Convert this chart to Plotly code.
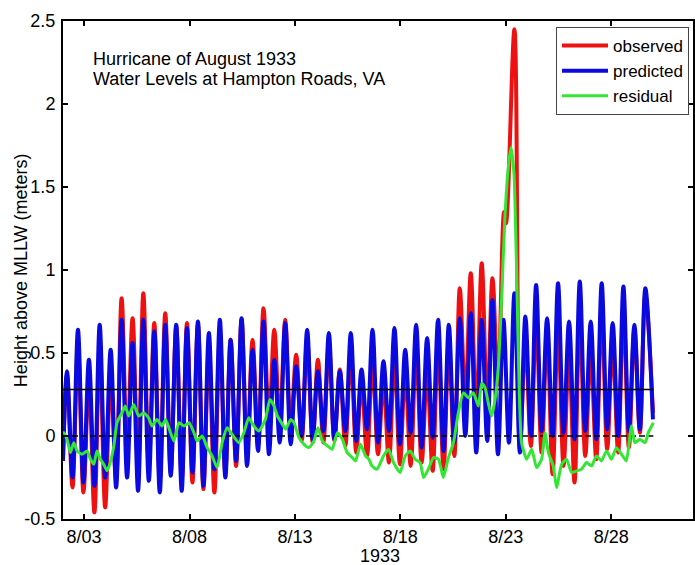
import plotly.graph_objects as go
import pandas as pd

# ---------------- data ----------------
# time axis: day of August 1933 (decimal days)
series_start_day = 2.00
series_end_day = 29.98

# high-water times and low-water times (decimal day of August)
hw_day = [2.19, 2.71, 3.23, 3.74, 4.26, 4.78, 5.30, 5.81, 6.33, 6.85,
          7.37, 7.88, 8.40, 8.92, 9.44, 9.95, 10.47, 10.99, 11.51, 12.02,
          12.54, 13.06, 13.58, 14.09, 14.61, 15.13, 15.65, 16.16, 16.68, 17.20,
          17.72, 18.23, 18.75, 19.27, 19.79, 20.30, 20.82, 21.34, 21.86, 22.37,
          22.89, 23.41, 23.93, 24.44, 24.96, 25.48, 26.00, 26.51, 27.03, 27.55,
          28.07, 28.58, 29.10, 29.62]
lw_day = [2.45, 2.97, 3.49, 4.00, 4.52, 5.04, 5.56, 6.07, 6.59, 7.11,
          7.63, 8.14, 8.66, 9.18, 9.70, 10.21, 10.73, 11.25, 11.77, 12.28,
          12.80, 13.32, 13.84, 14.35, 14.87, 15.39, 15.91, 16.42, 16.94, 17.46,
          17.98, 18.49, 19.01, 19.53, 20.05, 20.56, 21.08, 21.60, 22.12, 22.63,
          23.15, 23.67, 24.19, 24.70, 25.22, 25.74, 26.26, 26.77, 27.29, 27.81,
          28.33, 28.84, 29.36]

# predicted tide (m above MLLW)
pred_start, pred_end = -0.15, 0.10
pred_hw = [0.39, 0.64, 0.46, 0.67, 0.52, 0.70, 0.56, 0.70, 0.63, 0.67,
           0.67, 0.65, 0.69, 0.62, 0.70, 0.58, 0.71, 0.52, 0.69, 0.46,
           0.68, 0.42, 0.64, 0.39, 0.62, 0.39, 0.62, 0.40, 0.64, 0.45,
           0.65, 0.52, 0.67, 0.59, 0.70, 0.67, 0.71, 0.74, 0.70, 0.82,
           0.70, 0.86, 0.72, 0.91, 0.71, 0.92, 0.69, 0.93, 0.69, 0.92,
           0.68, 0.90, 0.67, 0.89]
pred_lw = [-0.25, -0.28, -0.30, -0.25, -0.31, -0.25, -0.33, -0.27, -0.34, -0.24,
           -0.33, -0.22, -0.30, -0.20, -0.25, -0.15, -0.18, -0.09, -0.11, -0.04,
           -0.05, 0.00, -0.02, 0.03, -0.02, 0.03, -0.03, 0.04, -0.04, 0.03,
           -0.05, 0.02, -0.07, -0.01, -0.09, -0.04, 0.00, -0.10, -0.03, -0.11,
           -0.04, -0.10, 0.00, 0.03, 0.00, 0.02, -0.02, 0.03, -0.02, 0.04,
           0.00, 0.03, 0.04]

# observed water level (m above MLLW); None where the surge replaces the tide
obs_start, obs_end = -0.13, 0.14
obs_hw = [0.37, 0.55, 0.34, 0.54, 0.37, 0.83, 0.71, 0.86, 0.68, 0.74,
          0.66, 0.68, 0.67, 0.53, 0.60, 0.58, 0.70, 0.58, 0.77, 0.64,
          0.70, 0.49, 0.58, 0.46, 0.55, 0.40, 0.50, 0.33, 0.46, 0.33,
          0.48, 0.40, 0.53, 0.38, 0.56, 0.55, 0.89, 0.98, 1.04, 0.95,
          None, 2.45, 0.58, 0.72, 0.63, 0.67, 0.51, 0.73, 0.51, 0.77,
          0.56, 0.78, 0.64, 0.85]
obs_lw = [-0.31, -0.34, -0.46, -0.43, -0.27, -0.10, -0.21, -0.17, -0.27, -0.22,
          -0.26, -0.28, -0.32, -0.34, -0.22, -0.18, -0.10, -0.05, 0.08, 0.06,
          0.05, -0.03, -0.04, -0.04, -0.03, -0.06, -0.10, -0.12, -0.11, -0.16,
          -0.17, -0.18, -0.16, -0.21, -0.20, -0.12, 0.20, 0.10, 0.17, 0.31,
          None, -0.08, -0.06, -0.10, -0.23, -0.18, -0.28, -0.12, -0.14, -0.08,
          -0.10, -0.07, 0.02]
obs_surge_day = [22.92, 23.01]
obs_surge = [1.35, 1.28]

# residual (observed - predicted)
resid_day = [2.00, 2.04, 2.19, 2.35, 2.51, 2.67, 2.90, 3.14, 3.30, 3.46,
             3.61, 3.77, 3.93, 4.09, 4.24, 4.41, 4.56, 4.80, 4.95, 5.12,
             5.35, 5.59, 5.83, 6.06, 6.22, 6.46, 6.69, 6.87, 7.10, 7.26,
             7.50, 7.74, 7.98, 8.21, 8.36, 8.60, 8.84, 9.07, 9.31, 9.55,
             9.78, 10.02, 10.34, 10.58, 10.81, 11.05, 11.29, 11.60, 11.81, 12.01,
             12.17, 12.41, 12.56, 12.80, 12.96, 13.19, 13.43, 13.67, 13.90, 14.09,
             14.30, 14.54, 14.77, 15.01, 15.25, 15.48, 15.72, 15.88, 16.11, 16.35,
             16.51, 16.65, 16.89, 17.20, 17.44, 17.68, 17.99, 18.23, 18.47, 18.70,
             18.94, 19.10, 19.33, 19.57, 19.81, 20.04, 20.28, 20.52, 20.75, 20.99,
             21.23, 21.46, 21.70, 21.86, 22.02, 22.17, 22.33, 22.49, 22.65, 22.80,
             22.96, 23.12, 23.25, 23.39, 23.51, 23.63, 23.75, 23.99, 24.23, 24.46,
             24.70, 24.86, 25.02, 25.25, 25.41, 25.65, 25.88, 26.12, 26.36, 26.59,
             26.83, 27.07, 27.30, 27.54, 27.78, 28.01, 28.25, 28.49, 28.72, 28.96,
             29.12, 29.36, 29.61, 29.76, 30.00]
resid = [0.02, 0.02, -0.02, -0.10, -0.04, -0.09, -0.11, -0.09, -0.14, -0.17,
         -0.09, -0.14, -0.17, -0.21, -0.16, -0.06, 0.08, 0.14, 0.18, 0.12,
         0.19, 0.12, 0.14, 0.11, 0.06, 0.10, 0.06, 0.10, 0.02, -0.03,
         0.08, 0.06, 0.08, 0.02, -0.03, 0.00, -0.07, -0.12, -0.19, -0.04,
         0.05, 0.01, -0.04, 0.02, 0.11, 0.06, 0.03, 0.10, 0.22, 0.18,
         0.12, 0.07, 0.04, 0.10, 0.08, -0.01, -0.05, -0.07, -0.03, 0.05,
         -0.03, -0.06, -0.08, 0.02, -0.02, -0.10, -0.13, -0.15, -0.05, -0.12,
         -0.14, -0.18, -0.20, -0.12, -0.08, -0.16, -0.22, -0.12, -0.09, -0.14,
         -0.16, -0.25, -0.20, -0.13, -0.14, -0.25, -0.13, -0.04, 0.14, 0.26,
         0.23, 0.26, 0.18, 0.32, 0.29, 0.20, 0.12, 0.22, 0.42, 0.82,
         1.32, 1.62, 1.74, 1.58, 1.02, 0.32, -0.04, -0.14, -0.08, -0.19,
         -0.14, 0.02, -0.10, -0.18, -0.31, -0.17, -0.14, -0.22, -0.21, -0.20,
         -0.16, -0.18, -0.12, -0.15, -0.09, -0.14, -0.07, -0.11, -0.15, 0.06,
         -0.04, -0.02, -0.04, 0.02, 0.08]

# reference levels
msl_level = 0.28
mllw_level = 0.0

# axes
x_range_days = [2.0, 31.88]
x_tick_days = [3, 8, 13, 18, 23, 28]
x_tick_labels = ["8/03", "8/08", "8/13", "8/18", "8/23", "8/28"]
y_tick_vals = [-0.5, 0, 0.5, 1, 1.5, 2, 2.5]
y_tick_labels = ["-0.5", "0", "0.5", "1", "1.5", "2", "2.5"]

# ---------------- build ----------------
BASE = pd.Timestamp("1933-08-01")


def to_date(d):
    return BASE + pd.to_timedelta(d - 1, unit="D")


def build(start, hw, lw, end, extra_day=(), extra=()):
    pts = [(series_start_day, start)]
    pts += [(d, v) for d, v in zip(hw_day, hw) if v is not None]
    pts += [(d, v) for d, v in zip(lw_day, lw) if v is not None]
    pts += list(zip(extra_day, extra))
    pts.append((series_end_day, end))
    pts.sort()
    return [to_date(d) for d, _ in pts], [v for _, v in pts]


FONT = "Liberation Sans, Arial, Helvetica, sans-serif"
FS = 18
RED, BLUE, GREEN = "#ee1111", "#0a0ae0", "#33e633"

fig = go.Figure()

ox, oy = build(obs_start, obs_hw, obs_lw, obs_end, obs_surge_day, obs_surge)
px_, py_ = build(pred_start, pred_hw, pred_lw, pred_end)

fig.add_trace(go.Scatter(x=ox, y=oy, mode="lines", name="observed",
                         line=dict(color=RED, width=4, shape="spline", smoothing=1.0),
                         legendrank=1))
fig.add_trace(go.Scatter(x=px_, y=py_, mode="lines", name="predicted",
                         line=dict(color=BLUE, width=4, shape="spline", smoothing=1.0),
                         legendrank=2))

line_x = [to_date(series_start_day), to_date(resid_day[-1])]
fig.add_trace(go.Scatter(x=line_x, y=[msl_level, msl_level], mode="lines",
                         line=dict(color="black", width=1.5), showlegend=False,
                         hoverinfo="skip"))
fig.add_trace(go.Scatter(x=line_x, y=[mllw_level, mllw_level], mode="lines",
                         line=dict(color="black", width=1.5, dash="6px,3px"),
                         showlegend=False, hoverinfo="skip"))

fig.add_trace(go.Scatter(x=[to_date(d) for d in resid_day], y=resid, mode="lines",
                         name="residual",
                         line=dict(color=GREEN, width=3, shape="spline", smoothing=0.5),
                         legendrank=3))

axis_common = dict(showline=True, linecolor="black", linewidth=2, mirror="ticks",
                   ticks="inside", ticklen=5, tickwidth=1.5, tickcolor="black",
                   showgrid=False, zeroline=False,
                   tickfont=dict(family=FONT, size=FS, color="black"))

fig.update_xaxes(type="date",
                 range=[to_date(x_range_days[0]), to_date(x_range_days[1])],
                 tickmode="array",
                 tickvals=[to_date(d) for d in x_tick_days],
                 ticktext=x_tick_labels,
                 ticklabelstandoff=0,
                 **axis_common)
fig.update_yaxes(range=[-0.5, 2.5], tickmode="array",
                 tickvals=y_tick_vals, ticktext=y_tick_labels,
                 ticklabelstandoff=2,
                 **axis_common)

W, H = 695, 565
L, R, T, B = 63, 0, 21, 46
pw, ph = W - L - R, H - T - B


def pxx(x):
    return (x - L) / pw


def pxy(y):
    return (H - B - y) / ph


fig.update_layout(
    width=W, height=H,
    margin=dict(l=L, r=R, t=T, b=B, pad=0),
    paper_bgcolor="white", plot_bgcolor="white",
    font=dict(family=FONT, size=FS, color="black"),
    showlegend=True,
    legend=dict(x=pxx(691), xanchor="right", y=pxy(27), yanchor="top",
                bgcolor="white", bordercolor="#444444", borderwidth=1,
                font=dict(family=FONT, size=17, color="black"),
                itemwidth=46, tracegroupgap=0),
    annotations=[
        dict(text="Hurricane of August 1933", xref="paper", yref="paper",
             x=pxx(91), y=pxy(59), xanchor="left", yanchor="middle",
             showarrow=False, font=dict(family=FONT, size=FS, color="black")),
        dict(text="Water Levels at Hampton Roads, VA", xref="paper", yref="paper",
             x=pxx(91), y=pxy(79), xanchor="left", yanchor="middle",
             showarrow=False, font=dict(family=FONT, size=FS, color="black")),
        dict(text="1933", xref="paper", yref="paper",
             x=pxx(381), y=pxy(556), xanchor="center", yanchor="middle",
             showarrow=False, font=dict(family=FONT, size=FS, color="black")),
        dict(text="Height above MLLW (meters)", xref="paper", yref="paper",
             x=pxx(21), y=pxy(270), xanchor="center", yanchor="middle",
             textangle=-90, showarrow=False,
             font=dict(family=FONT, size=FS, color="black")),
    ],
)

fig.write_html(
    "out.html",
    config={"displayModeBar": False},
    post_script="document.body.style.margin='0';document.body.style.padding='0';"
                "document.documentElement.style.overflow='hidden';",
)
